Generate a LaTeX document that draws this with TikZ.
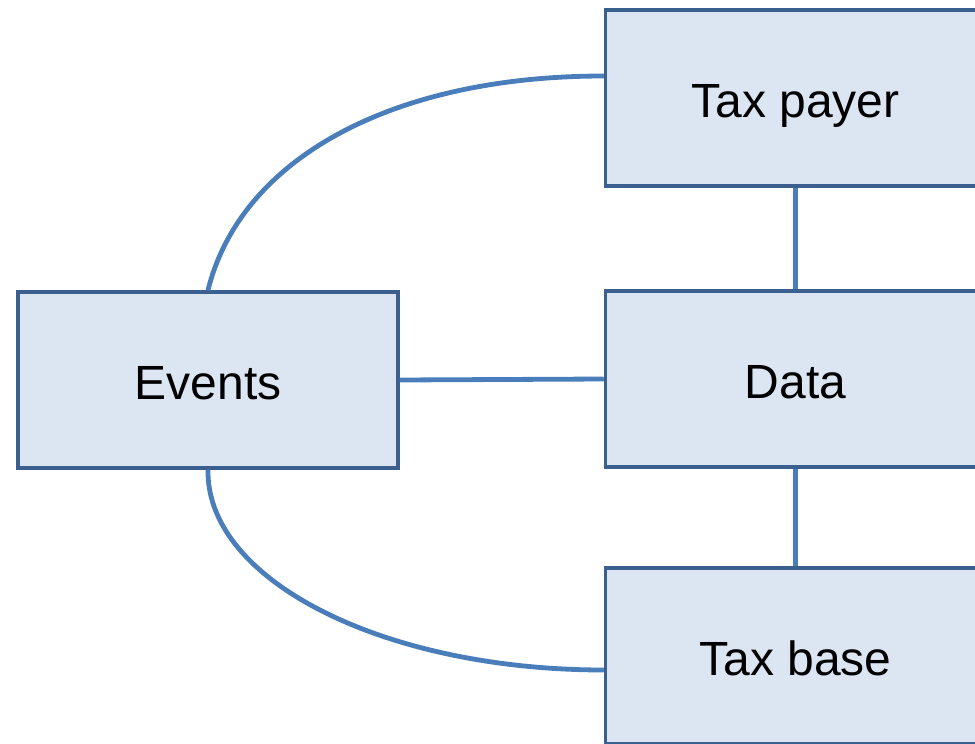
\documentclass[tikz,border=0pt]{standalone}
\usepackage{fontspec}
\setmainfont{Liberation Sans}
\definecolor{boxfill}{HTML}{DCE6F2}
\definecolor{boxline}{HTML}{3B5F8E}
\definecolor{linkcol}{HTML}{4A7EBB}
\begin{document}
\begin{tikzpicture}[x=1pt,y=-1pt,
  box/.style={draw=boxline, fill=boxfill, line width=3.5pt, rectangle,
    minimum width=380pt, minimum height=176pt, inner sep=0pt,
    text height=39pt, text depth=0pt,
    font=\fontsize{48}{58}\selectfont},
  link/.style={draw=linkcol, line width=4.8pt}]
\useasboundingbox (0,0) rectangle (975,744);
\clip (0,0) rectangle (975,744);
\node[box] (E) at (208,380) {Events};
\node[box] (TP) at (795.5,98) {Tax payer};
\node[box] (D) at (795.5,379) {Data};
\node[box] (TB) at (795.5,656) {Tax base};
\draw[link] (TP.south) -- (D.north);
\draw[link] (D.south) -- (TB.north);
\draw[link] (E.east) -- (D.west);
\coordinate (tpin) at ([yshift=22pt]TP.west);
\coordinate (tbin) at ([yshift=-14pt]TB.west);
\draw[link] (E.north) .. controls (240,160) and (390,76) .. (tpin);
\draw[link] (E.south) .. controls (206,580) and (383,670) .. (tbin);
\end{tikzpicture}
\end{document}
